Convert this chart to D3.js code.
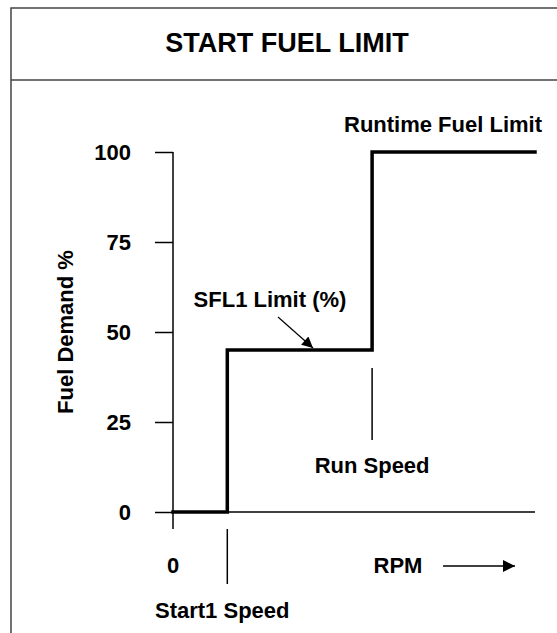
<!DOCTYPE html>
<html>
<head>
<meta charset="utf-8">
<script src="https://cdn.jsdelivr.net/npm/d3@7/dist/d3.min.js"></script>
<style>
  html, body { margin: 0; padding: 0; background: #fff; }
  svg text { font-family: Arial, "Liberation Sans", sans-serif; font-weight: bold; fill: #000; }
</style>
</head>
<body>
<svg id="chart" width="557" height="633"></svg>
<script>
// Start fuel limit schedule: fuel demand (%) against engine speed (relative RPM)
const speedPoints = [0, 15, 55, 100];        // 0, Start1 Speed, Run Speed, max
const fuelDemand  = [0, 45, 100, 100];       // % held from each speed point onward
const yTicks      = [0, 25, 50, 75, 100];
const speedMarkers = ["Start1 Speed", "Run Speed"];

const svg = d3.select("#chart");

// frame and title band
svg.append("rect")
  .attr("x", 11).attr("y", 8).attr("width", 560).attr("height", 640)
  .attr("fill", "none").attr("stroke", "#444").attr("stroke-width", 1.5);
svg.append("line")
  .attr("x1", 11).attr("x2", 571).attr("y1", 80).attr("y2", 80)
  .attr("stroke", "#444").attr("stroke-width", 1.5);
svg.append("text")
  .attr("x", 287).attr("y", 52).attr("text-anchor", "middle")
  .style("font-size", "27px")
  .text("START FUEL LIMIT");

const x = d3.scaleLinear().domain([0, 100]).range([173, 535]);
const y = d3.scaleLinear().domain([0, 100]).range([512, 152]);

// y axis with left ticks
const yAxis = d3.axisLeft(y).tickValues(yTicks).tickSize(18).tickPadding(24);
const gy = svg.append("g").attr("transform", `translate(${x(0)},0)`).call(yAxis);
gy.select(".domain").remove();
gy.selectAll(".tick line").attr("stroke", "#000").attr("stroke-width", 1.5);
gy.selectAll(".tick text").style("font-size", "22px").attr("fill", "#000");
svg.append("line")
  .attr("x1", x(0)).attr("x2", x(0)).attr("y1", y(100)).attr("y2", y(0) + 17)
  .attr("stroke", "#000").attr("stroke-width", 1.5);

// x axis baseline
svg.append("line")
  .attr("x1", x(0)).attr("x2", x(100)).attr("y1", y(0)).attr("y2", y(0))
  .attr("stroke", "#000").attr("stroke-width", 1.5);

// y axis title
svg.append("text")
  .attr("transform", `translate(73,${(y(0) + y(100)) / 2}) rotate(-90)`)
  .attr("text-anchor", "middle")
  .style("font-size", "22px")
  .text("Fuel Demand %");

// step curve
const pts = speedPoints.map((s, i) => [s, fuelDemand[i]]);
svg.append("path")
  .datum(pts)
  .attr("fill", "none").attr("stroke", "#000").attr("stroke-width", 3.5)
  .attr("stroke-linejoin", "miter").attr("stroke-linecap", "square")
  .attr("d", d3.line().x(d => x(d[0])).y(d => y(d[1])).curve(d3.curveStepAfter));

// speed marker lines
svg.append("line")
  .attr("x1", x(speedPoints[1])).attr("x2", x(speedPoints[1]))
  .attr("y1", y(0) + 17).attr("y2", y(0) + 72)
  .attr("stroke", "#000").attr("stroke-width", 1.5);
svg.append("line")
  .attr("x1", x(speedPoints[2])).attr("x2", x(speedPoints[2]))
  .attr("y1", y(fuelDemand[1]) + 18).attr("y2", y(fuelDemand[1]) + 90)
  .attr("stroke", "#000").attr("stroke-width", 1.5);

// x labels
svg.append("text")
  .attr("x", x(0)).attr("y", 573).attr("text-anchor", "middle")
  .style("font-size", "22px").text("0");
svg.append("text")
  .attr("x", 155).attr("y", 618)
  .style("font-size", "22px").text(speedMarkers[0]);
svg.append("text")
  .attr("x", x(speedPoints[2])).attr("y", 473).attr("text-anchor", "middle")
  .style("font-size", "22px").text(speedMarkers[1]);
svg.append("text")
  .attr("x", 398).attr("y", 573).attr("text-anchor", "middle")
  .style("font-size", "22px").text("RPM");

// RPM direction arrow
const defs = svg.append("defs");
defs.append("marker")
  .attr("id", "head").attr("viewBox", "0 0 10 10")
  .attr("refX", 10).attr("refY", 5)
  .attr("markerUnits", "userSpaceOnUse")
  .attr("markerWidth", 18).attr("markerHeight", 12)
  .attr("orient", "auto")
  .append("path").attr("d", "M0,0 L10,5 L0,10 Z").attr("fill", "#000");
defs.append("marker")
  .attr("id", "head2").attr("viewBox", "0 0 10 10")
  .attr("refX", 10).attr("refY", 5)
  .attr("markerUnits", "userSpaceOnUse")
  .attr("markerWidth", 14).attr("markerHeight", 11)
  .attr("orient", "auto")
  .append("path").attr("d", "M0,0 L10,5 L0,10 Z").attr("fill", "#000");

svg.append("line")
  .attr("x1", 443).attr("x2", 515).attr("y1", 566).attr("y2", 566)
  .attr("stroke", "#000").attr("stroke-width", 1.5)
  .attr("marker-end", "url(#head)");

// annotations
svg.append("text")
  .attr("x", 542).attr("y", 132).attr("text-anchor", "end")
  .style("font-size", "22px").text("Runtime Fuel Limit");
svg.append("text")
  .attr("x", 270).attr("y", 307).attr("text-anchor", "middle")
  .style("font-size", "22px").text("SFL1 Limit (%)");
svg.append("line")
  .attr("x1", 278).attr("y1", 317).attr("x2", 313).attr("y2", y(fuelDemand[1]) - 2)
  .attr("stroke", "#000").attr("stroke-width", 1.2)
  .attr("marker-end", "url(#head2)");
</script>
</body>
</html>
